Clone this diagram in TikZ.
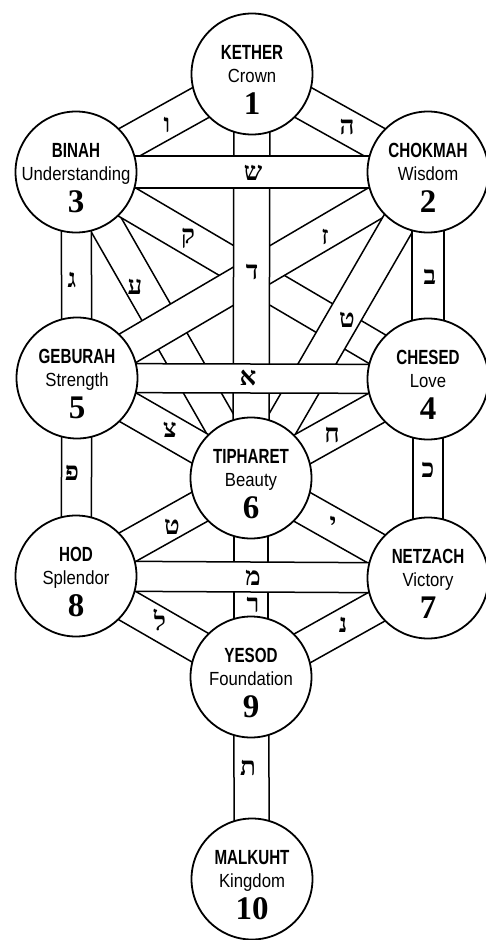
\documentclass[tikz,border=0pt]{standalone}
\usepackage{fontspec}
\usetikzlibrary{calc}
\newfontfamily\hebfont[Script=Hebrew]{Liberation Serif}
\newfontfamily\titlefont[FakeStretch=0.74]{Liberation Sans}
\newfontfamily\subfont[FakeStretch=0.88]{Liberation Sans}
\newfontfamily\numfont{Liberation Serif}
\pgfdeclarelayer{bands}
\pgfsetlayers{bands,main}

% a path of the tree: a white strip with a rule along each side
\newcommand\pathband[3]{%
  \fill[white] ($(#1.center)!#3!90:(#2.center)$) -- ($(#2.center)!#3!-90:(#1.center)$)
     -- ($(#2.center)!#3!90:(#1.center)$) -- ($(#1.center)!#3!-90:(#2.center)$) -- cycle;
  \draw[bandline] ($(#1.center)!#3!90:(#2.center)$) -- ($(#2.center)!#3!-90:(#1.center)$);
  \draw[bandline] ($(#1.center)!#3!-90:(#2.center)$) -- ($(#2.center)!#3!90:(#1.center)$);
}

% a sephira: circle with title, English name and number
\newcommand\sephira[6]{%
  \node[sephbox] (#1) at (#2,#3) {};
  \node[ttl]    (#1-title) at ([yshift=15pt]#1.center) {#4};
  \node[subtxt] (#1-name)  at ([yshift=-8pt]#1.center) {#5};
  \node[numtxt] (#1-num)   at ([yshift=-40pt]#1.center) {#6};
}

\begin{document}
\begin{tikzpicture}[x=1pt,y=-1pt,
  sephbox/.style={circle, draw, line width=1.8pt, fill=white, minimum size=121pt, inner sep=0pt},
  bandline/.style={line width=1.5pt, line cap=round},
  heb/.style={font=\hebfont\bfseries\fontsize{26}{26}\selectfont, inner sep=0pt},
  ttl/.style={font=\titlefont\bfseries\fontsize{20.5}{20.5}\selectfont, anchor=base, inner sep=0pt},
  subtxt/.style={font=\subfont\fontsize{19}{19}\selectfont, anchor=base, inner sep=0pt},
  numtxt/.style={font=\numfont\bfseries\fontsize{33}{33}\selectfont, anchor=base, inner sep=0pt}]

\useasboundingbox (0,0) rectangle (485,940);

\sephira{kether}{252}{74}{KETHER}{Crown}{1}
\sephira{binah}{76}{172}{BINAH}{Understanding}{3}
\sephira{chokmah}{428}{172}{CHOKMAH}{Wisdom}{2}
\sephira{geburah}{77}{378}{GEBURAH}{Strength}{5}
\sephira{chesed}{428}{379}{CHESED}{Love}{4}
\sephira{tiphareth}{251}{478}{TIPHARET}{Beauty}{6}
\sephira{hod}{76}{576}{HOD}{Splendor}{8}
\sephira{netzach}{428}{578}{NETZACH}{Victory}{7}
\sephira{yesod}{251}{677}{YESOD}{Foundation}{9}
\sephira{malkuth}{252}{879}{MALKUHT}{Kingdom}{10}

\begin{pgfonlayer}{bands}
  \fill[white] (0,0) rectangle (485,940);
  % lowest: the long diagonals
  \pathband{binah}{tiphareth}{16.5pt}
  \pathband{binah}{chesed}{16.5pt}
  \pathband{chokmah}{geburah}{16.5pt}
  \pathband{chokmah}{tiphareth}{16.5pt}
  % middle pillar
  \pathband{kether}{tiphareth}{18pt}
  \pathband{tiphareth}{yesod}{17pt}
  \pathband{yesod}{malkuth}{17.5pt}
  % the remaining paths
  \pathband{kether}{chokmah}{17pt}
  \pathband{kether}{binah}{17pt}
  \pathband{binah}{geburah}{15pt}
  \pathband{chokmah}{chesed}{16pt}
  \pathband{geburah}{tiphareth}{16.5pt}
  \pathband{chesed}{tiphareth}{16.5pt}
  \pathband{geburah}{hod}{15pt}
  \pathband{chesed}{netzach}{15pt}
  \pathband{tiphareth}{hod}{16.5pt}
  \pathband{tiphareth}{netzach}{16.5pt}
  \pathband{hod}{yesod}{16.5pt}
  \pathband{netzach}{yesod}{16.5pt}
  % the three horizontals on top
  \pathband{binah}{chokmah}{16pt}
  \pathband{geburah}{chesed}{14.5pt}
  \pathband{hod}{netzach}{15pt}
\end{pgfonlayer}

% letters of the paths
\node[heb] (l-vav)    at (167,125) {ו};
\node[heb] (l-he)     at (347,127) {ה};
\node[heb] (l-shin)   at (253,173) {ש};
\node[heb] (l-qof)    at (188,238) {ק};
\node[heb] (l-zayin)  at (325,237) {ז};
\node[heb] (l-dalet)  at (252,272) {ד};
\node[heb] (l-gimel)  at (72,280)  {ג};
\node[heb] (l-bet)    at (430,277) {ב};
\node[heb] (l-ayin)   at (135,287) {ע};
\node[heb] (l-tet)    at (347,320) {ט};
\node[heb] (l-alef)   at (248,378) {א};
\node[heb] (l-tsadi)  at (170,430) {צ};
\node[heb] (l-het)    at (332,435) {ח};
\node[heb] (l-pe)     at (72,473)  {פ};
\node[heb] (l-kaf)    at (428,470) {כ};
\node[heb] (l-tet2)   at (172,527) {ט};
\node[heb] (l-yod)    at (333,524) {י};
\node[heb] (l-mem)    at (253,578) {מ};
\node[heb] (l-resh)   at (253,605) {ר};
\node[heb] (l-lamed)  at (160,620) {ל};
\node[heb] (l-nun)    at (343,625) {נ};
\node[heb] (l-tav)    at (248,768) {ת};
\end{tikzpicture}
\end{document}
